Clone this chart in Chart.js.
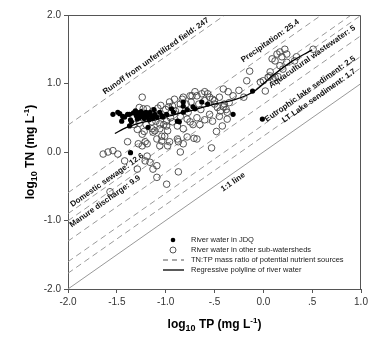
<!DOCTYPE html>
<html>
<head>
<meta charset="utf-8">
<script src="https://cdn.jsdelivr.net/npm/chart.js"></script>
<style>
  html, body { margin: 0; padding: 0; background: #fff; }
  #wrap { width: 384px; height: 339px; }
</style>
</head>
<body>
<div id="wrap"><canvas id="grafico" width="384" height="339"></canvas></div>
<script>
// log10 TP, log10 TN - river water in JDQ (filled dots)
const pontosJDQ = [
  [-1.54,0.55],[-1.49,0.58],[-1.47,0.56],[-1.44,0.52],[-1.42,0.51],[-1.39,0.55],[-1.37,0.55],[-1.36,0.47],
  [-1.45,0.45],[-1.37,0.38],[-1.35,0.44],[-1.33,0.57],[-1.31,0.60],[-1.30,0.53],[-1.29,0.48],[-1.28,0.57],
  [-1.27,0.50],[-1.26,0.55],[-1.25,0.59],[-1.24,0.52],[-1.23,0.56],[-1.22,0.49],[-1.21,0.54],[-1.20,0.58],
  [-1.19,0.51],[-1.18,0.55],[-1.17,0.47],[-1.16,0.58],[-1.15,0.53],[-1.13,0.50],[-1.12,0.62],[-1.11,0.55],
  [-1.09,0.51],[-1.06,0.58],[-1.04,0.53],[-1.03,0.51],[-0.99,0.55],[-0.94,0.63],[-0.92,0.58],[-0.88,0.45],
  [-0.86,0.44],[-0.82,0.58],[-0.82,0.67],[-0.82,0.73],[-0.78,0.62],[-0.72,0.66],[-0.70,0.63],[-0.63,0.73],
  [-0.57,0.70],[-1.18,0.36],[-1.36,-0.01],[-0.31,0.55],[-0.01,0.48],[-0.11,0.89]
];

// river water in other sub-watersheds (open circles)
const pontosOutras = [
  [-1.24,0.80],[-1.23,0.63],[-1.19,0.63],[-1.14,0.44],[-1.06,0.41],[-0.99,0.45],[-0.96,0.73],[-0.91,0.77],
  [-0.85,0.70],[-0.82,0.80],[-0.75,0.82],[-0.70,0.88],[-1.14,0.34],[-1.06,0.34],[-0.98,0.31],[-0.88,0.38],
  [-0.82,0.34],[-0.75,0.44],[-1.11,0.31],[-1.04,0.23],[-0.99,0.38],[-0.93,0.44],[-0.93,0.67],[-0.83,0.77],
  [-0.73,0.82],[-0.63,0.85],[-0.60,0.88],[-0.68,0.82],[-0.55,0.80],[-0.57,0.85],[-1.00,0.62],[-0.97,0.66],
  [-0.90,0.60],[-0.86,0.62],[-0.79,0.70],[-0.77,0.58],[-0.74,0.73],[-0.66,0.70],[-0.64,0.62],[-0.60,0.75],
  [-0.52,0.77],[-0.50,0.70],[-0.47,0.65],[-0.44,0.60],[-0.41,0.66],[-0.37,0.58],[-0.37,0.48],[-0.45,0.52],
  [-0.55,0.55],[-0.60,0.47],[-0.68,0.50],[-0.72,0.40],[-0.78,0.48],[-0.85,0.52],[-1.27,0.42],[-1.32,0.40],
  [-1.20,0.40],[-1.10,0.45],[-1.02,0.40],[-0.95,0.50],[-1.13,0.60],[-1.08,0.64],[-1.05,0.68],[-1.27,0.65],
  [-1.29,0.33],[-1.22,0.30],[-0.65,0.40],[-0.52,0.45],[-0.48,0.30],[-0.42,0.38],[-0.50,0.75],[-0.45,0.80],
  [-0.40,0.70],[-0.35,0.72],[-0.38,0.62],
  [-1.39,0.15],[-1.28,0.12],[-1.21,0.15],[-1.09,0.19],[-1.24,0.26],[-1.13,0.29],[-1.01,0.23],[-0.96,0.15],
  [-0.88,0.19],[-0.82,0.12],[-0.78,0.22],[-0.68,0.19],[-1.04,0.16],[-1.06,0.09],[-0.98,0.09],[-0.87,0.15],
  [-1.19,0.12],[-1.24,0.09],[-0.85,0.00],[-0.71,0.20],[-0.53,0.06],
  [-1.64,-0.03],[-1.59,0.00],[-1.54,0.02],[-1.49,-0.03],
  [-1.19,-0.06],[-1.21,-0.13],[-1.16,-0.15],[-1.09,-0.20],[-1.13,-0.25],[-1.29,-0.25],[-1.09,-0.37],
  [-0.99,-0.47],[-0.87,-0.29],[-1.42,-0.13],[-1.57,-0.58],
  [0.17,1.46],[0.22,1.50],[0.24,1.43],[0.19,1.39],[0.51,1.50],[0.34,1.39],[0.32,1.33],[0.24,1.31],
  [0.17,1.26],[0.20,1.21],[-0.14,1.18],[0.07,1.17],[0.05,1.09],[0.12,1.09],[0.00,1.04],[-0.17,1.04],
  [0.02,0.89],[-0.31,0.82],[-0.41,0.92],[-0.36,0.88],[-0.25,0.90],[-0.20,0.80],[0.09,1.36],[0.12,1.33],
  [0.14,1.43],[-0.03,1.02],[0.07,1.11],[0.10,1.07],[0.15,1.10]
];

// regressive polyline of river water
const regTP = [-1.52, -1.40, -1.25, -1.10, -0.90, -0.70, -0.50, -0.30, -0.10, 0.10, 0.30, 0.50];
const regTN = [0.27, 0.36, 0.43, 0.47, 0.55, 0.62, 0.70, 0.76, 0.88, 1.12, 1.33, 1.49];

// TN:TP mass ratios of potential nutrient sources
const razoes = [247, 25.4, 12.6, 9.9, 5, 2.5, 1.7];
const rotulosRazao = [
  "Runoff from unfertilized field: 247",
  "Precipitation: 25.4",
  "Domestic sewage: 12.6",
  "Manure discharge: 9.9",
  "Aquacultural wastewater: 5",
  "Eutrophic lake sediment: 2.5",
  "LT Lake sendiment: 1.7"
];
const rotuloUmPraUm = "1:1 line";

// ticks
const ticksX = [-2, -1.5, -1, -0.5, 0, 0.5, 1];
const rotulosX = ["-2.0", "-1.5", "-1.0", "-.5", "0.0", ".5", "1.0"];
const ticksY = [-2, -1, 0, 1, 2];
const rotulosY = ["-2.0", "-1.0", "0.0", "1.0", "2.0"];

const legendaTextos = [
  "River water in JDQ",
  "River water in other sub-watersheds",
  "TN:TP mass ratio of potential nutrient sources",
  "Regressive polyline of river water"
];

// posicao do centro de cada rotulo (coordenadas de dados)
const posRotulos = [
  [-1.10, 1.40], [0.07, 1.62], [-1.60, -0.41], [-1.62, -0.72],
  [0.50, 1.39], [0.48, 0.92], [0.57, 0.82]
];
const posUmPraUm = [-0.31, -0.44];

const FONTE = "'Liberation Sans', Arial, sans-serif";
const CINZA = "#999";

const toXY = arr => arr.map(p => ({ x: p[0], y: p[1] }));

const linhasRazao = razoes.map(r => ({
  type: "line",
  data: [{ x: -2, y: -2 + Math.log10(r) }, { x: 1, y: 1 + Math.log10(r) }],
  borderColor: CINZA,
  borderWidth: 1,
  borderDash: [6, 4],
  pointRadius: 0,
  showLine: true
}));

// desenha texto com sub/sobrescrito
function textoMisto(ctx, partes, x, y) {
  let total = 0;
  partes.forEach(p => {
    ctx.font = "bold " + p.size + "px " + FONTE;
    total += ctx.measureText(p.t).width;
  });
  let cx = x - total / 2;
  partes.forEach(p => {
    ctx.font = "bold " + p.size + "px " + FONTE;
    ctx.fillText(p.t, cx, y + p.dy);
    cx += ctx.measureText(p.t).width;
  });
}

const extras = {
  id: "extras",
  afterDatasetsDraw(chart) {
    const ctx = chart.ctx;
    const a = chart.chartArea;
    const sx = chart.scales.x, sy = chart.scales.y;
    ctx.save();

    // moldura
    ctx.strokeStyle = "#555";
    ctx.lineWidth = 1;
    ctx.beginPath();
    ctx.moveTo(a.left, a.top + 0.5);
    ctx.lineTo(a.right - 0.5, a.top + 0.5);
    ctx.lineTo(a.right - 0.5, a.bottom);
    ctx.stroke();

    // rotulos das linhas
    const ang = Math.atan2(sy.getPixelForValue(1) - sy.getPixelForValue(0),
                           sx.getPixelForValue(1) - sx.getPixelForValue(0));
    ctx.fillStyle = "#111";
    ctx.font = "bold 8px " + FONTE;
    ctx.textAlign = "center";
    ctx.textBaseline = "middle";
    const desenha = (txt, pos) => {
      ctx.save();
      ctx.translate(sx.getPixelForValue(pos[0]), sy.getPixelForValue(pos[1]));
      ctx.rotate(ang);
      ctx.fillText(txt, 0, 0);
      ctx.restore();
    };
    rotulosRazao.forEach((t, i) => desenha(t, posRotulos[i]));
    desenha(rotuloUmPraUm, posUmPraUm);

    // legenda
    const lx = 173, ly = 240, passo = 10;
    ctx.textAlign = "left";
    ctx.font = "7.5px " + FONTE;
    ctx.fillStyle = "#000";
    ctx.beginPath(); ctx.arc(lx, ly, 2.3, 0, Math.PI * 2); ctx.fill();
    ctx.strokeStyle = "#444"; ctx.lineWidth = 0.9;
    ctx.beginPath(); ctx.arc(lx, ly + passo, 3, 0, Math.PI * 2); ctx.stroke();
    ctx.strokeStyle = "#555"; ctx.lineWidth = 1; ctx.setLineDash([5, 4]);
    ctx.beginPath(); ctx.moveTo(163, ly + 2 * passo); ctx.lineTo(184, ly + 2 * passo); ctx.stroke();
    ctx.setLineDash([]);
    ctx.strokeStyle = "#000"; ctx.lineWidth = 1.3;
    ctx.beginPath(); ctx.moveTo(163, ly + 3 * passo); ctx.lineTo(184, ly + 3 * passo); ctx.stroke();
    ctx.fillStyle = "#222";
    legendaTextos.forEach((t, i) => ctx.fillText(t, 191, ly + i * passo));

    // titulos dos eixos
    ctx.fillStyle = "#000";
    ctx.textAlign = "left";
    ctx.textBaseline = "alphabetic";
    const cxTit = (a.left + a.right) / 2;
    textoMisto(ctx, [
      { t: "log", size: 12, dy: 0 }, { t: "10", size: 9, dy: 3 },
      { t: " TP (mg L", size: 12, dy: 0 }, { t: "-1", size: 8, dy: -5 }, { t: ")", size: 12, dy: 0 }
    ], cxTit, 328);
    ctx.save();
    ctx.translate(34, (a.top + a.bottom) / 2);
    ctx.rotate(-Math.PI / 2);
    textoMisto(ctx, [
      { t: "log", size: 12, dy: 0 }, { t: "10", size: 9, dy: 3 },
      { t: " TN (mg L", size: 12, dy: 0 }, { t: "-1", size: 8, dy: -5 }, { t: ")", size: 12, dy: 0 }
    ], 0, 0);
    ctx.restore();

    ctx.restore();
  }
};

const eixo = (min, max, ticks, rotulos, fit) => ({
  type: "linear",
  min: min,
  max: max,
  afterBuildTicks: s => { s.ticks = ticks.map(v => ({ value: v })); },
  afterFit: fit,
  ticks: {
    callback: (v) => rotulos[ticks.indexOf(v)],
    color: "#333",
    font: { family: FONTE, size: 10 },
    padding: 3,
    autoSkip: false,
    maxRotation: 0
  },
  grid: { display: true, drawOnChartArea: false, drawTicks: true, tickLength: 4, color: "#555" },
  border: { display: true, color: "#555", width: 1 },
  title: { display: false }
});

new Chart(document.getElementById("grafico"), {
  type: "scatter",
  data: {
    datasets: [
      {
        label: legendaTextos[0],
        data: toXY(pontosJDQ),
        pointRadius: 2.6,
        pointBackgroundColor: "#000",
        pointBorderWidth: 0
      },
      {
        type: "line",
        label: legendaTextos[3],
        data: regTP.map((v, i) => ({ x: v, y: regTN[i] })),
        borderColor: "#000",
        borderWidth: 1.3,
        pointRadius: 0,
        tension: 0.3,
        showLine: true
      },
      {
        label: legendaTextos[1],
        data: toXY(pontosOutras),
        pointRadius: 3.3,
        pointBackgroundColor: "rgba(0,0,0,0)",
        pointBorderColor: "#444",
        pointBorderWidth: 0.9
      },
      {
        type: "line",
        label: rotuloUmPraUm,
        data: [{ x: -2, y: -2 }, { x: 1, y: 1 }],
        borderColor: CINZA,
        borderWidth: 1,
        pointRadius: 0,
        showLine: true
      },
      ...linhasRazao
    ]
  },
  options: {
    responsive: false,
    animation: false,
    layout: { padding: { left: 0, right: 23, top: 15, bottom: 0 } },
    plugins: { legend: { display: false }, tooltip: { enabled: false } },
    scales: {
      x: eixo(-2, 1, ticksX, rotulosX, s => { s.height = 50; }),
      y: eixo(-2, 2, ticksY, rotulosY, s => { s.width = 68; })
    }
  },
  plugins: [extras]
});
</script>
</body>
</html>
